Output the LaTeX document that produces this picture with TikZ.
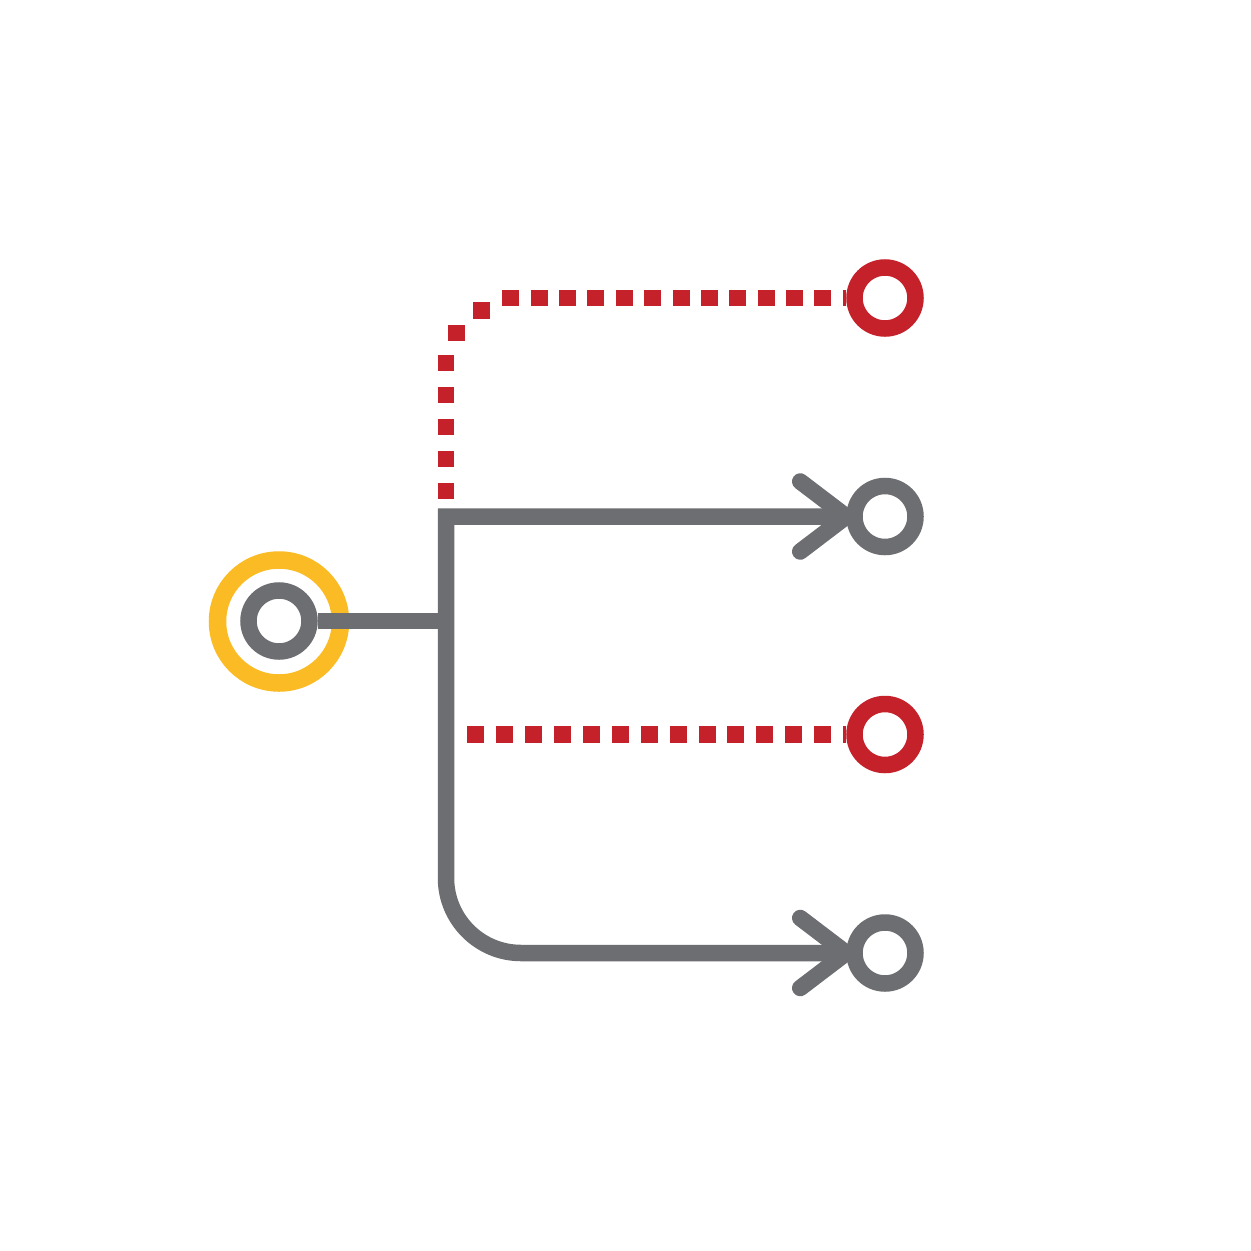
\documentclass[tikz,border=0pt]{standalone}
\definecolor{lgray}{HTML}{6D6E71}
\definecolor{lred}{HTML}{C4212A}
\definecolor{lyel}{HTML}{FBBB24}
\begin{document}
\begin{tikzpicture}[x=1pt,y=-1pt,
 ring/.style={circle, draw, line width=16.5pt, minimum size=61pt, inner sep=0pt},
 halostyle/.style={circle, draw=lyel, line width=17.5pt, minimum size=123pt, inner sep=0pt},
 gline/.style={draw=lgray, line width=16.5pt},
 chev/.style={draw=lgray, line width=16.5pt, line cap=round, line join=round},
 rdot/.style={draw=lred, line width=16.5pt, line cap=butt}]
\fill[white] (0,0) rectangle (1251,1251);
\useasboundingbox (0,0) rectangle (1251,1251);
\node[halostyle] (halo) at (279,621.5) {};
\node[ring, draw=lgray] (src) at (279,621) {};
\node[ring, draw=lred] (r1) at (885,298) {};
\node[ring, draw=lgray] (g1) at (885,516.5) {};
\node[ring, draw=lred] (r2) at (885,734.5) {};
\node[ring, draw=lgray] (g2) at (885,953) {};
\coordinate (jt) at (446,516.5);
\coordinate (jm) at (446,621);
\coordinate (rt) at (446,498.5);
\coordinate (rh) at (502.3,298);
\coordinate (rm) at (467.3,734.5);
% gray connectors
\draw[gline] (src.east) -- (jm);
\draw[gline] (g1.west) -- (jt) -- (446,878) arc[start angle=180,end angle=270,radius=75pt] -- (g2.west);
\draw[chev] (g1.west) ++(-46,-35) -- (g1.west) -- ++(-46,35);
\draw[chev] (g2.west) ++(-46,-35) -- (g2.west) -- ++(-46,35);
% red dotted connectors
\draw[rdot, dash pattern=on 16pt off 16pt] (rt) -- (446,354.5);
\fill[lred] (448.3,325) rectangle (465.3,341);
\fill[lred] (473.3,302.3) rectangle (490.3,318.7);
\draw[rdot, dash pattern=on 17pt off 11.37pt] (rh) -- (r1.west);
\draw[rdot, dash pattern=on 17pt off 11.9pt] (rm) -- (r2.west);
\end{tikzpicture}
\end{document}
